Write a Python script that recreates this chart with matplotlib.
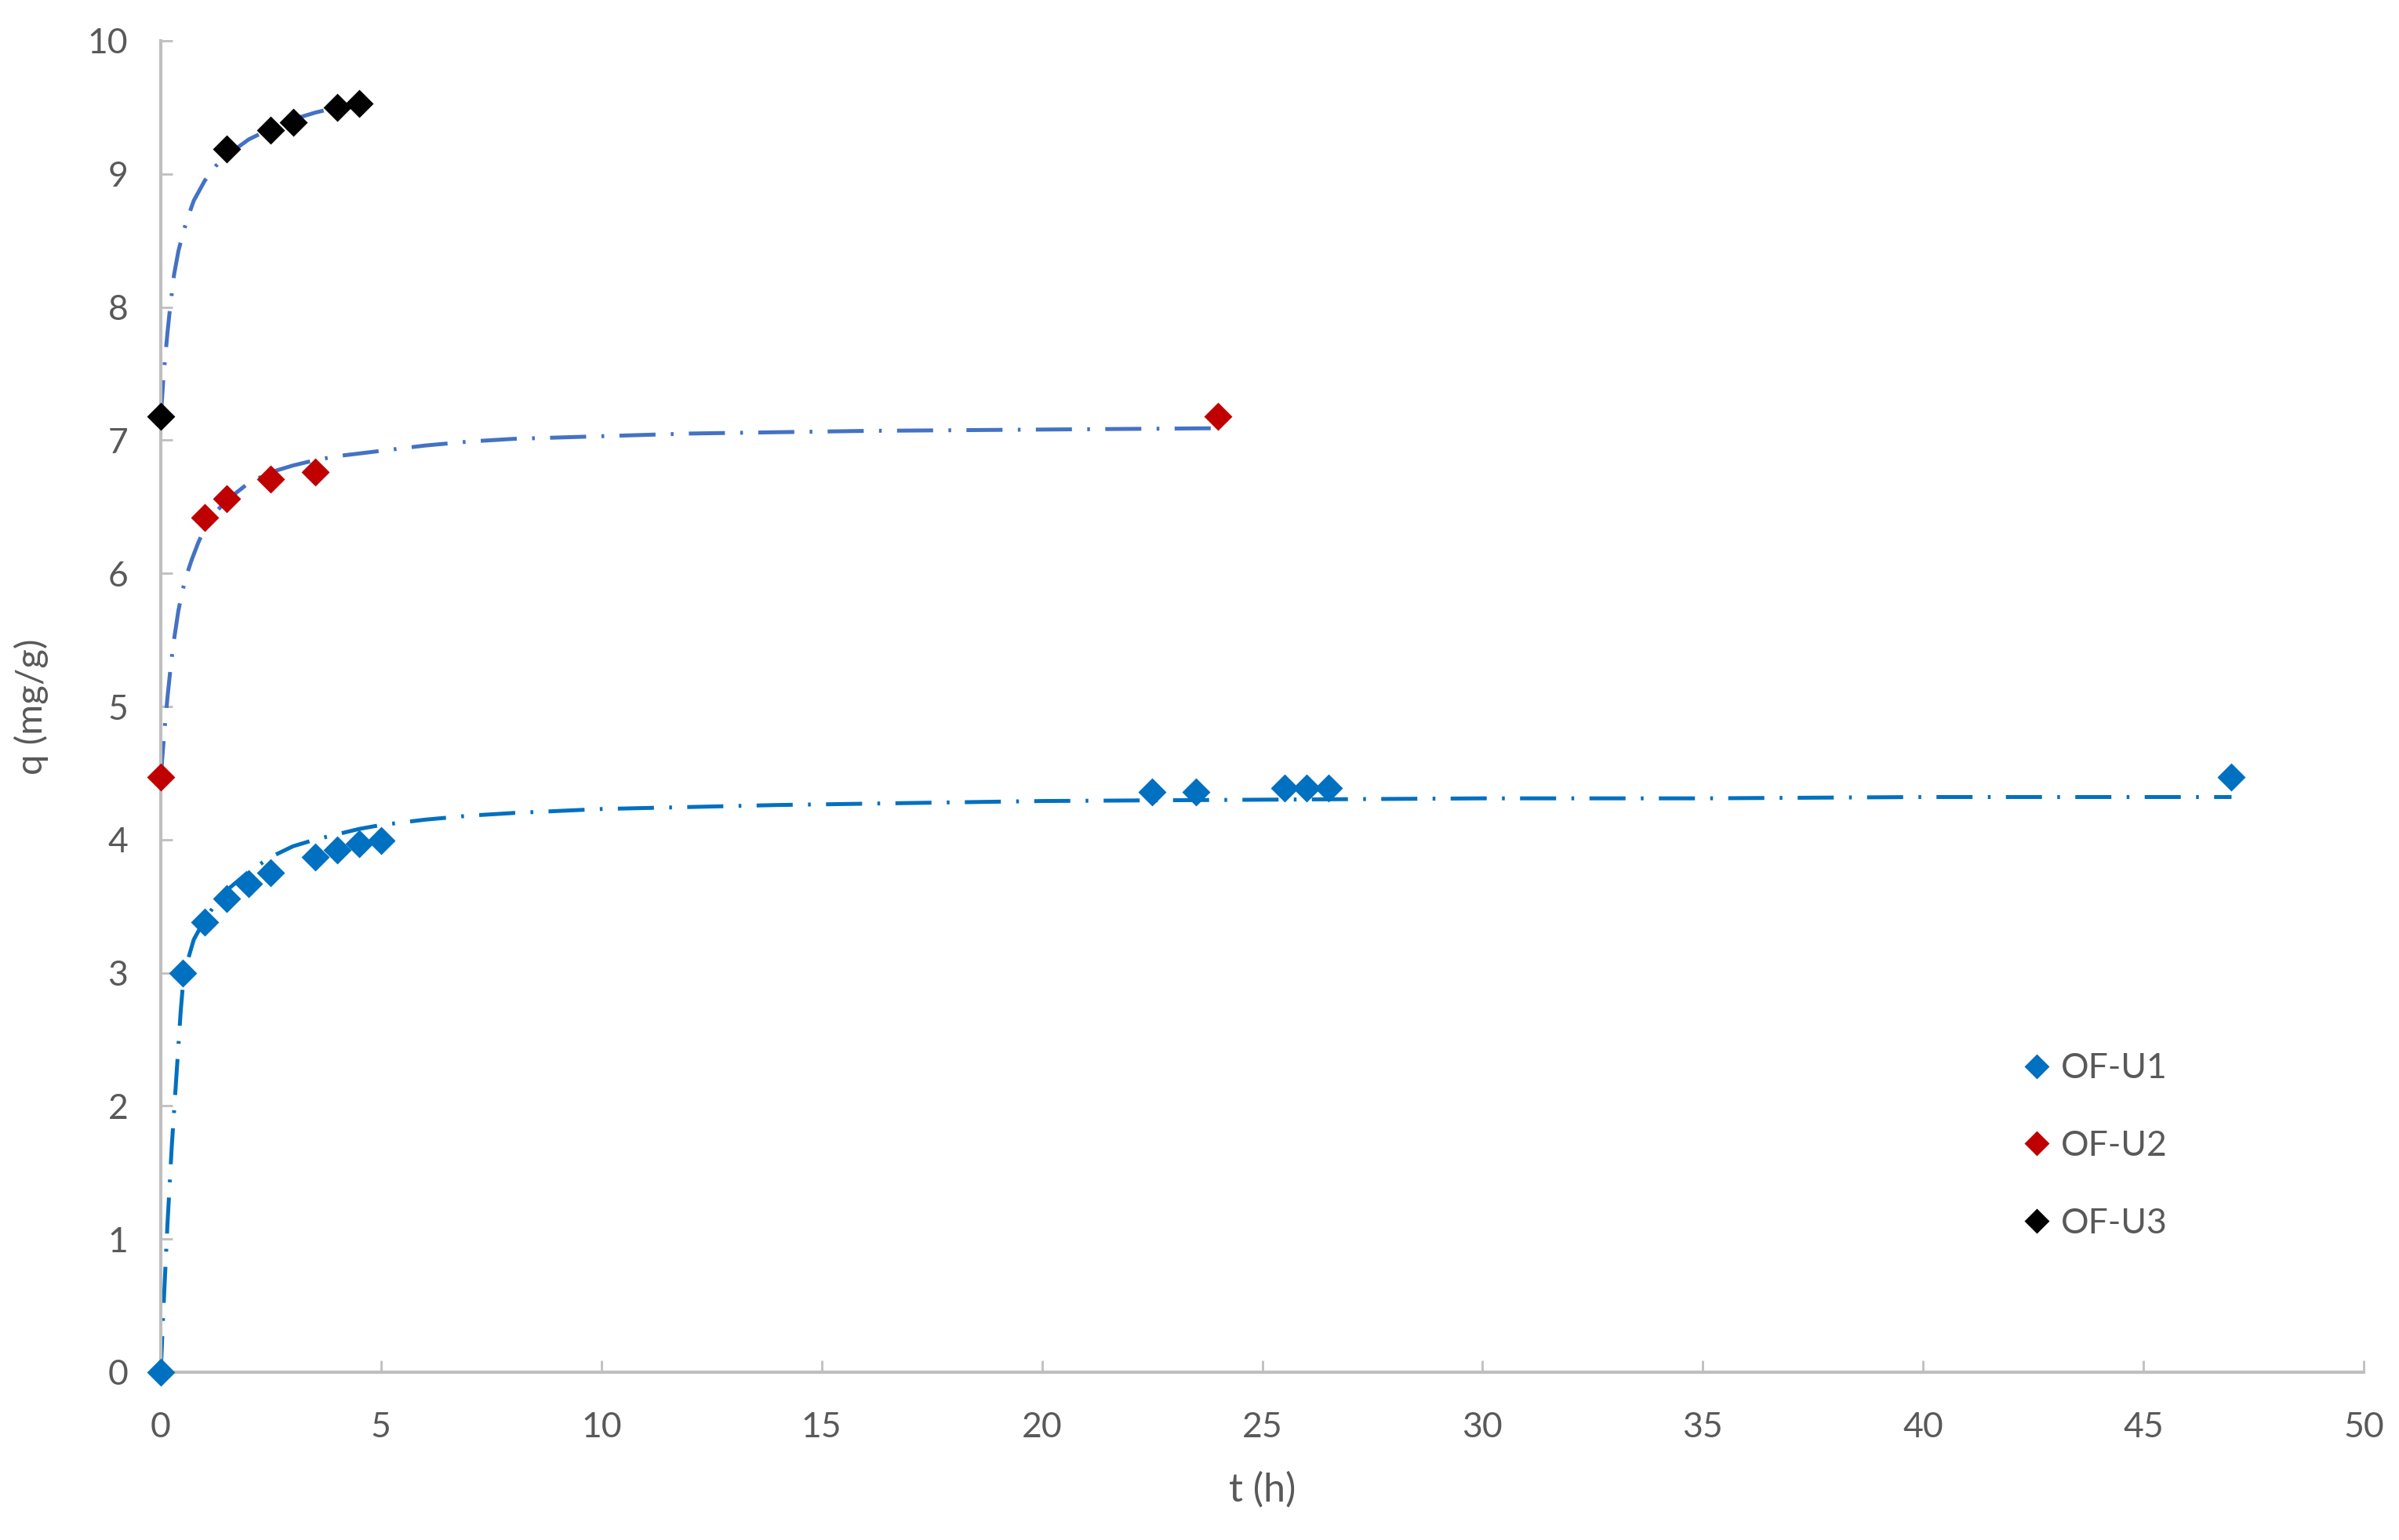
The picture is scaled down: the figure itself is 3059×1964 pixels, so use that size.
import matplotlib
matplotlib.use("Agg")
import matplotlib.pyplot as plt

# ---- data: measured points ----
t_u1 = [0, 0.5, 1, 1.5, 2, 2.5, 3.5, 4, 4.5, 5, 22.5, 23.5, 25.5, 26, 26.5, 47]
q_u1 = [0, 3.0, 3.38, 3.56, 3.67, 3.75, 3.87, 3.92, 3.97, 3.99, 4.36, 4.36, 4.39, 4.39, 4.39, 4.47]

t_u2 = [0, 1, 1.5, 2.5, 3.5, 24]
q_u2 = [4.47, 6.42, 6.56, 6.71, 6.76, 7.18]

t_u3 = [0, 1.5, 2.5, 3, 4, 4.5]
q_u3 = [7.18, 9.19, 9.33, 9.39, 9.50, 9.53]

# ---- data: fitted curves ----
fit_t_u1 = [0, 0.05, 0.1, 0.15, 0.2, 0.25, 0.3, 0.35, 0.4, 0.45, 0.5, 0.6, 0.75, 1, 1.25,
            1.5, 2, 2.5, 3, 3.5, 4, 4.5, 5, 6, 7, 8, 9, 10, 12, 14, 16, 18, 20, 25, 30,
            35, 40, 47]
fit_q_u1 = [0, 0.4, 0.75, 1.1, 1.4, 1.7, 1.95, 2.2, 2.45, 2.7, 2.9, 3.08, 3.25, 3.4, 3.52,
            3.62, 3.76, 3.87, 3.95, 4.0, 4.04, 4.08, 4.11, 4.15, 4.18, 4.2, 4.215, 4.23,
            4.245, 4.26, 4.27, 4.28, 4.29, 4.30, 4.31, 4.31, 4.32, 4.32]

fit_t_u2 = [0, 0.05, 0.1, 0.15, 0.2, 0.25, 0.3, 0.4, 0.5, 0.6, 0.7, 0.85, 1, 1.25, 1.5, 2,
            2.5, 3, 3.5, 4, 5, 6, 7, 8, 9, 10, 12, 14, 16, 18, 20, 22, 24]
fit_q_u2 = [4.47, 4.68, 4.88, 5.06, 5.22, 5.37, 5.5, 5.72, 5.88, 6.0, 6.1, 6.23, 6.34, 6.46,
            6.55, 6.68, 6.76, 6.81, 6.85, 6.88, 6.92, 6.96, 6.99, 7.01, 7.02, 7.03, 7.05,
            7.06, 7.07, 7.075, 7.08, 7.085, 7.09]

fit_t_u3 = [0, 0.03, 0.06, 0.1, 0.15, 0.2, 0.25, 0.3, 0.4, 0.5, 0.6, 0.75, 1, 1.25, 1.5,
            1.75, 2, 2.5, 3, 3.5, 4, 4.5]
fit_q_u3 = [7.18, 7.32, 7.47, 7.62, 7.8, 7.96, 8.1, 8.24, 8.42, 8.55, 8.66, 8.8, 8.95, 9.06,
            9.14, 9.2, 9.26, 9.34, 9.41, 9.46, 9.5, 9.53]

labels = ["OF-U1", "OF-U2", "OF-U3"]
x_ticks = list(range(0, 55, 5))
y_ticks = list(range(0, 11, 1))

plt.rcParams['font.family'] = ['Lato', 'DejaVu Sans']

DPI = 200
fig = plt.figure(figsize=(3059 / DPI, 1964 / DPI), dpi=DPI)
ax = fig.add_axes([205 / 3059, 1 - 1750 / 1964, (3014 - 205) / 3059, (1750 - 52) / 1964])

lw = 1.8
dash = (0, (9.2, 3.9, 0.7, 3.9))
ax.plot(fit_t_u1, fit_q_u1, color="#0070C0", lw=lw, ls=dash, zorder=2, clip_on=False)
ax.plot(fit_t_u2, fit_q_u2, color="#4472C4", lw=lw, ls=dash, zorder=2, clip_on=False)
ax.plot(fit_t_u3, fit_q_u3, color="#4472C4", lw=lw, ls=dash, zorder=2, clip_on=False)

ms = 8.4
ax.plot(t_u1, q_u1, ls="none", marker="D", ms=ms, color="#0070C0", label=labels[0],
        zorder=3, clip_on=False)
ax.plot(t_u2, q_u2, ls="none", marker="D", ms=ms, color="#C00000", label=labels[1],
        zorder=3, clip_on=False)
ax.plot(t_u3, q_u3, ls="none", marker="D", ms=ms, color="#000000", label=labels[2],
        zorder=3, clip_on=False)

ax.set_xlim(0, 50)
ax.set_ylim(0, 10)
ax.set_xticks(x_ticks)
ax.set_yticks(y_ticks)

for s in ["top", "right"]:
    ax.spines[s].set_visible(False)
for s in ["left", "bottom"]:
    ax.spines[s].set_color("#BFBFBF")
    ax.spines[s].set_linewidth(1.5)

ax.tick_params(axis="both", direction="in", length=5.5, width=1.0, color="#BFBFBF",
               labelcolor="#595959", labelsize=16)
ax.tick_params(axis="y", pad=15)
ax.tick_params(axis="x", pad=18)

ax.set_xlabel("t (h)", fontsize=18, color="#595959", labelpad=13)
ax.set_ylabel("q (mg/g)", fontsize=17, color="#595959", labelpad=18)

leg = ax.legend(loc="center left", bbox_to_anchor=(0.831, 0.170), frameon=False,
                fontsize=16, handlelength=0.8, handletextpad=0.3, labelspacing=1.3,
                labelcolor="#595959", markerscale=0.85)

fig.savefig("out.png", dpi=DPI, facecolor="white")
